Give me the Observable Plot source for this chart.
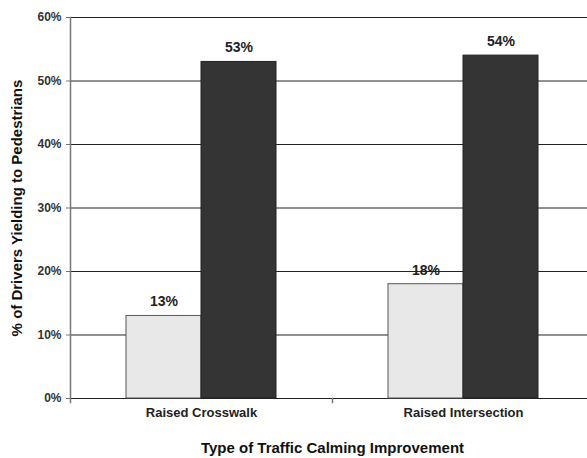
<!DOCTYPE html>
<html>
<head>
<meta charset="utf-8">
<script src="https://cdn.jsdelivr.net/npm/d3@7"></script>
<script src="https://cdn.jsdelivr.net/npm/@observablehq/plot@0.6"></script>
<style>
  html, body { margin: 0; padding: 0; background: #fff; }
  svg { font-family: "Liberation Sans", Arial, sans-serif; }
</style>
</head>
<body>
<div id="chart"></div>
<script>
// Share of drivers yielding to pedestrians, before and after each improvement
const improvements = ["Raised Crosswalk", "Raised Intersection"];
const periods = ["Before", "After"];
const beforeValues = [13, 18];
const afterValues = [53, 54];
const yTicks = [0, 10, 20, 30, 40, 50, 60];

const rows = improvements.flatMap((name, i) => [
  {improvement: name, period: periods[0], value: beforeValues[i]},
  {improvement: name, period: periods[1], value: afterValues[i]}
]);

const W = 587, H = 458;
const M = {top: 17, right: -7, bottom: 60, left: 70};
const innerHeight = H - M.top - M.bottom;

const chart = Plot.plot({
  width: W,
  height: H,
  marginTop: M.top,
  marginBottom: M.bottom,
  marginLeft: M.left,
  marginRight: M.right,
  style: {fontFamily: "Liberation Sans, Arial, sans-serif", color: "#222"},
  fx: {domain: improvements, padding: 0},
  x: {domain: periods, paddingInner: 0, paddingOuter: 0.735, axis: null},
  y: {domain: [0, 60], axis: null},
  color: {domain: periods, range: ["#e8e8e8", "#343434"]},
  marks: [
    // horizontal gridlines, including the 0% baseline
    Plot.ruleY(yTicks, {stroke: "#222", strokeWidth: 1}),
    // vertical value axis line, running a little past the baseline
    Plot.frame({anchor: "left", facetAnchor: "left", stroke: "#777", strokeWidth: 1.5, insetBottom: -4}),
    // short separator tick between the two categories
    Plot.frame({anchor: "left", facetAnchor: "right", stroke: "#777", strokeWidth: 1.5, insetTop: innerHeight, insetBottom: -4}),
    Plot.barY(rows, {
      fx: "improvement", x: "period", y: "value",
      fill: "period",
      stroke: d => d.period === "Before" ? "#555" : "#222",
      strokeWidth: 1
    }),
    Plot.text(rows, {
      fx: "improvement", x: "period", y: "value",
      text: d => d.value + "%",
      dy: -14,
      fontSize: 14, fontWeight: "bold", fill: "#222"
    }),
    Plot.axisY(yTicks, {
      anchor: "left",
      tickFormat: d => d + "%",
      tickSize: 4, tickPadding: 5,
      stroke: "#777",
      fontSize: 12, fontWeight: "bold", fill: "#333",
      label: null
    }),
    Plot.axisY({
      anchor: "left",
      ticks: [],
      label: "% of Drivers Yielding to Pedestrians",
      labelAnchor: "center",
      labelArrow: "none",
      labelOffset: 59,
      fontSize: 15, fontWeight: "bold", fill: "#111"
    }),
    Plot.axisFx({
      anchor: "bottom",
      tickSize: 0, tickPadding: 9,
      fontSize: 13, fontWeight: "bold", fill: "#222",
      label: null
    }),
    Plot.axisFx({
      anchor: "bottom",
      ticks: [],
      label: "Type of Traffic Calming Improvement",
      labelAnchor: "center",
      labelArrow: "none",
      labelOffset: 54,
      fontSize: 15, fontWeight: "bold", fill: "#111"
    })
  ]
});

document.getElementById("chart").appendChild(chart);
</script>
</body>
</html>
